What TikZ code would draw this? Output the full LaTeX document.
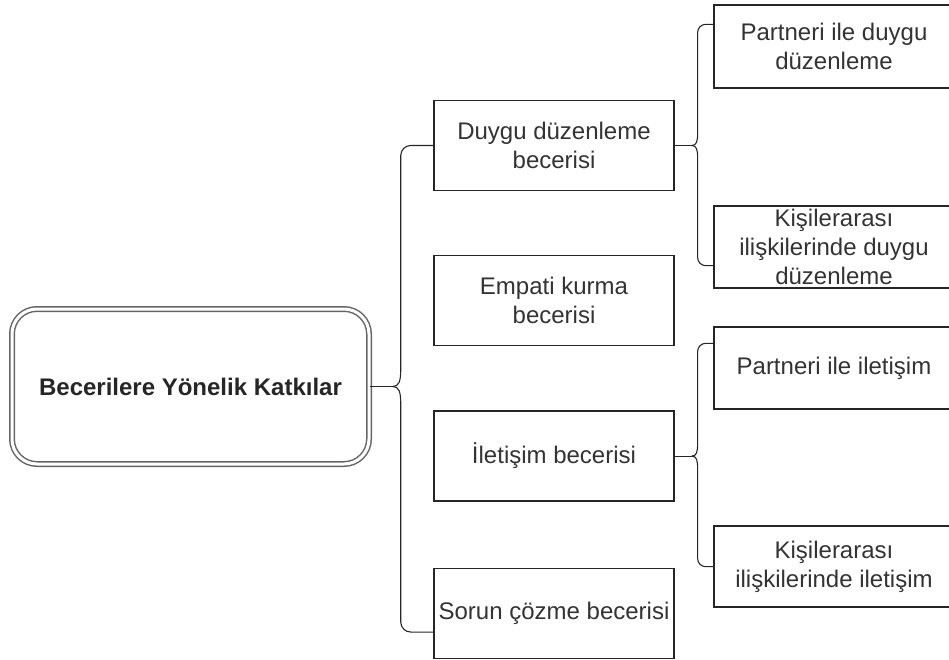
\documentclass[tikz,border=0pt]{standalone}
\usepackage{fontspec}
\setmainfont{Liberation Sans}
\usetikzlibrary{positioning}

\begin{document}
\begin{tikzpicture}[
x=1pt, y=-1pt,
node distance=64pt,
box/.style={draw=black!85, line width=1.3pt, rectangle,
minimum width=240pt,
minimum height=90pt, inner sep=0pt,
align=center, text=black!80,
font=\fontsize{24}{29}\selectfont},
subbox/.style={box, minimum height=82pt},
mainbox/.style={draw=black!60, line width=1.5pt, double=white,
double distance=3pt, rounded corners=25pt,
minimum width=357pt, minimum height=155pt,
align=center, text=black!85,
font=\fontsize{24}{29}\selectfont\bfseries},
brace/.style={draw=black!85, line width=1.1pt}
]
\useasboundingbox (0,0) rectangle (949,660);

\node[mainbox] (main) at (190.5,386.5) {Becerilere Yönelik Katkılar};

\node[box] (duygu) at (554,145.5) {Duygu düzenleme\\becerisi};
\node[box, below=of duygu] (empati) {Empati kurma\\becerisi};
\node[box, below=of empati] (iletisim) {İletişim becerisi};
\node[box, below=66pt of iletisim] (sorun) {Sorun çözme becerisi};

\node[subbox, minimum height=83pt] (partner1) at (834,46.5) {Partneri ile duygu\\düzenleme};
\node[subbox] (kisi1) at (834,247) {Kişilerarası\\ilişkilerinde duygu\\düzenleme};
\node[subbox] (partner2) at (834,368) {Partneri ile iletişim};
\node[subbox, minimum height=81pt] (kisi2) at (834,566.5) {Kişilerarası\\ilişkilerinde iletişim};

\coordinate (t1) at ([xshift=23pt]main.east);
\coordinate (sb) at ([yshift=27pt]sorun.south west);
\draw[brace] (main.east) -- (t1);
\draw[brace] (t1) .. controls +(6,0) and +(0,12) .. ++(8,-17) [rounded corners=10pt] |- (duygu.west);
\draw[brace] (t1) .. controls +(6,0) and +(0,-12) .. ++(8,17) [rounded corners=10pt] |- (sb);

\coordinate (t2) at ([xshift=17pt]duygu.east);
\coordinate (p1) at ([yshift=-20pt]partner1.north west);
\coordinate (k1) at ([yshift=23pt]kisi1.south west);
\draw[brace] (duygu.east) -- (t2);
\draw[brace] (t2) .. controls +(5,0) and +(0,9) .. ++(6,-13) [rounded corners=8pt] |- (p1);
\draw[brace] (t2) .. controls +(5,0) and +(0,-9) .. ++(6,13) [rounded corners=8pt] |- (k1);

\coordinate (t3) at ([xshift=17pt]iletisim.east);
\coordinate (p2) at ([yshift=-17pt]partner2.north west);
\coordinate (k2) at ([yshift=41pt]kisi2.south west);
\draw[brace] (iletisim.east) -- (t3);
\draw[brace] (t3) .. controls +(5,0) and +(0,9) .. ++(6,-13) [rounded corners=8pt] |- (p2);
\draw[brace] (t3) .. controls +(5,0) and +(0,-9) .. ++(6,13) [rounded corners=8pt] |- (k2);

\end{tikzpicture}
\end{document}
